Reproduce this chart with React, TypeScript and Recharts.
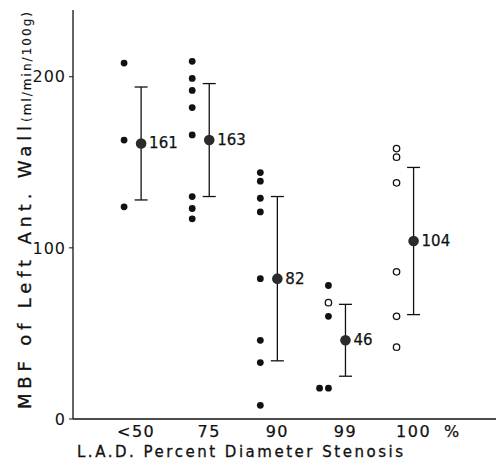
import { ErrorBar, Label, Scatter, ScatterChart, XAxis, YAxis } from "recharts";

const CATEGORIES = ["<50", "75", "90", "99", "100"];

// individual animals, solid dots
const FILLED_VALUES = [
  [208, 163, 124],
  [209, 199, 192, 182, 166, 130, 123, 117],
  [144, 139, 129, 121, 82, 46, 33, 8],
  [78, 60, 18, 18],
  [],
];

// individual animals, open dots
const OPEN_VALUES = [[], [], [], [68], [158, 153, 138, 86, 60, 42]];

const MEANS = [161, 163, 82, 46, 104];
const SDS = [33, 33, 48, 21, 43];

const FONT = "'DejaVu Sans', 'Liberation Sans', Arial, sans-serif";
const INK = "#111";

const DOT_SHIFT = 0.25;
const PAIR_SHIFT = 0.13;

function toPoints(groups: number[][]) {
  return groups.flatMap((values, i) =>
    values.map((v, j) => {
      // repeated values in a group sit side by side
      const repeatsLater = values.indexOf(v, j + 1) !== -1;
      return { x: i + 1 - DOT_SHIFT - (repeatsLater ? PAIR_SHIFT : 0), y: v };
    })
  );
}

const filledData = toPoints(FILLED_VALUES);
const openData = toPoints(OPEN_VALUES);
const meanData = MEANS.map((m, i) => ({ x: i + 1, y: m, sd: SDS[i], label: String(m) }));

function XTick({ x, y, payload }: any) {
  const i = payload.value - 1;
  return (
    <g fontFamily={FONT} fontSize={16} fill={INK} stroke={INK} strokeWidth={0.25}>
      <text x={i === 0 ? x - 5 : x} y={y + 16} textAnchor="middle" letterSpacing={1.5}>
        {CATEGORIES[i]}
      </text>
      {i === CATEGORIES.length - 1 && (
        <text x={x + 38} y={y + 16} textAnchor="middle">
          %
        </text>
      )}
    </g>
  );
}

function YTitle({ viewBox }: any) {
  const cx = viewBox.x + 31;
  const bottom = viewBox.y + viewBox.height;
  return (
    <g
      transform={`translate(${cx}, 0) rotate(-90)`}
      fontFamily={FONT}
      fill={INK}
      stroke={INK}
      strokeWidth={0.3}
    >
      <text x={-(bottom - 10)} y={0} fontSize={18} textLength={283} lengthAdjust="spacing">
        MBF of Left Ant. Wall
      </text>
      <text
        x={-(bottom - 297)}
        y={0}
        fontSize={12}
        strokeWidth={0.15}
        textLength={110}
        lengthAdjust="spacing"
      >
        (ml/min/100g)
      </text>
    </g>
  );
}

function XTitle({ viewBox }: any) {
  return (
    <text
      x={viewBox.x + 4}
      y={viewBox.y + 38}
      fontFamily={FONT}
      fontSize={15}
      textLength={326}
      lengthAdjust="spacing"
      fill={INK}
      stroke={INK}
      strokeWidth={0.3}
    >
      L.A.D. Percent Diameter Stenosis
    </text>
  );
}

const FilledDot = ({ cx, cy }: any) => <circle cx={cx} cy={cy} r={3.4} fill={INK} />;
const OpenDot = ({ cx, cy }: any) => (
  <circle cx={cx} cy={cy} r={3.2} fill="#fff" stroke={INK} strokeWidth={1.3} />
);
const MeanDot = ({ cx, cy, payload }: any) => (
  <g>
    <circle cx={cx} cy={cy} r={5.3} fill="#2b2b2b" />
    <text
      x={cx + 8}
      y={cy}
      dominantBaseline="central"
      fontFamily={FONT}
      fontSize={15}
      fill={INK}
      stroke={INK}
      strokeWidth={0.25}
    >
      {payload.label}
    </text>
  </g>
);

export default function App() {
  return (
    <div style={{ position: "absolute", left: 0, top: 0, background: "#fff" }}>
      <ScatterChart width={496} height={460} margin={{ top: 10, right: 0, bottom: 0, left: 0 }}>
        <XAxis
          type="number"
          dataKey="x"
          domain={[0, 6.21]}
          ticks={[1, 2, 3, 4, 5]}
          tick={<XTick />}
          tickLine={false}
          tickSize={0}
          height={41}
          axisLine={{ stroke: INK, strokeWidth: 1.3 }}
        >
          <Label content={<XTitle />} />
        </XAxis>
        <YAxis
          type="number"
          dataKey="y"
          domain={[0, 239]}
          ticks={[0, 100, 200]}
          width={73}
          tickSize={4}
          tickMargin={3}
          tick={{ fill: INK, fontSize: 16, fontFamily: FONT, letterSpacing: 1 }}
          tickLine={{ stroke: INK, strokeWidth: 1 }}
          axisLine={{ stroke: INK, strokeWidth: 1.3 }}
        >
          <Label content={<YTitle />} />
        </YAxis>
        <Scatter data={filledData} shape={<FilledDot />} isAnimationActive={false} />
        <Scatter data={openData} shape={<OpenDot />} isAnimationActive={false} />
        <Scatter data={meanData} shape={<MeanDot />} isAnimationActive={false}>
          <ErrorBar dataKey="sd" direction="y" width={6.5} stroke={INK} strokeWidth={1.3} />
        </Scatter>
      </ScatterChart>
    </div>
  );
}
